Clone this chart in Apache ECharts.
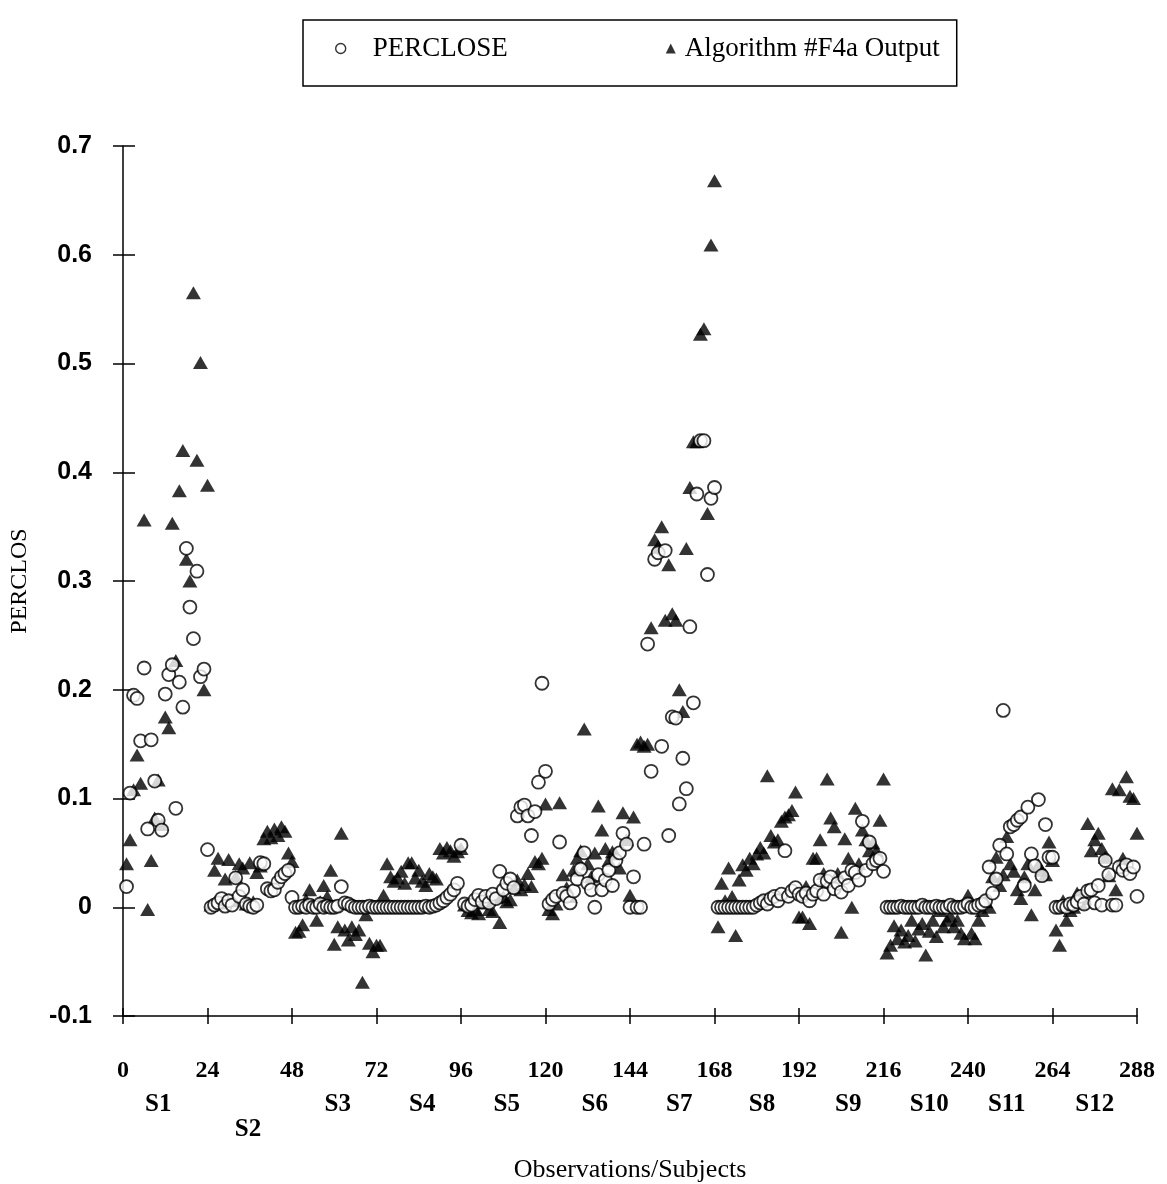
<!DOCTYPE html>
<html>
<head>
<meta charset="utf-8">
<script src="https://cdn.jsdelivr.net/npm/echarts@6/dist/echarts.min.js"></script>
<style>
html,body{margin:0;padding:0;background:#fff;}
#chart{width:1167px;height:1184px;}
</style>
</head>
<body>
<div id="chart"></div>
<script>
// ---- Data (24 observations per subject, observations 1..288) ----
const subjectNames = ['S1','S2','S3','S4','S5','S6','S7','S8','S9','S10','S11','S12'];
const subjectCenters = [10, 35.5, 61, 85, 109, 134, 158, 181.5, 206, 229, 251, 276];

// PERCLOSE (circles)
const s1p = [0.019,0.105,0.195,0.192,0.153,0.220,0.072,0.154,0.116,0.080,0.071,0.196,0.214,0.223,0.091,0.207,0.184,0.330,0.276,0.247,0.309,0.212,0.219,0.053];
const s2p = [0.000,0.002,0.004,0.008,0.001,0.006,0.002,0.027,0.010,0.016,0.003,0.001,0.000,0.002,0.041,0.040,0.017,0.015,0.016,0.023,0.028,0.031,0.034,0.009];
const s3p = [0.000,0.000,0.001,0.000,0.002,0.000,0.000,0.003,0.000,0.001,0.000,0.000,0.001,0.019,0.004,0.003,0.001,0.000,0.000,0.000,0.000,0.001,0.000,0.000];
const s4p = [0.000,0.000,0.000,0.000,0.000,0.000,0.000,0.000,0.000,0.000,0.000,0.000,0.000,0.001,0.000,0.001,0.002,0.004,0.006,0.009,0.012,0.016,0.022,0.057];
const s5p = [0.003,0.001,0.002,0.007,0.011,0.005,0.010,0.004,0.012,0.008,0.033,0.016,0.022,0.026,0.018,0.084,0.092,0.094,0.084,0.066,0.088,0.115,0.206,0.125];
const s6p = [0.003,0.007,0.010,0.060,0.013,0.010,0.004,0.015,0.026,0.035,0.050,0.022,0.016,0.000,0.030,0.016,0.025,0.034,0.020,0.043,0.050,0.068,0.058,0.000];
const s7p = [0.028,0.000,0.000,0.058,0.242,0.125,0.320,0.326,0.148,0.328,0.066,0.175,0.174,0.095,0.137,0.109,0.258,0.188,0.380,0.429,0.429,0.306,0.376,0.386];
const s8p = [0.000,0.000,0.000,0.000,0.000,0.000,0.000,0.000,0.000,0.000,0.000,0.002,0.004,0.006,0.003,0.008,0.010,0.006,0.012,0.052,0.010,0.015,0.018,0.012];
const s9p = [0.010,0.013,0.006,0.012,0.015,0.025,0.012,0.024,0.028,0.017,0.022,0.014,0.027,0.020,0.034,0.032,0.025,0.079,0.034,0.060,0.040,0.043,0.045,0.033];
const s10p = [0.000,0.000,0.000,0.000,0.001,0.000,0.000,0.000,0.000,0.000,0.002,0.000,0.000,0.000,0.001,0.000,0.000,0.000,0.002,0.000,0.000,0.000,0.001,0.003];
const s11p = [0.000,0.000,0.002,0.003,0.006,0.037,0.013,0.026,0.057,0.181,0.049,0.074,0.076,0.080,0.083,0.020,0.092,0.049,0.038,0.099,0.029,0.076,0.046,0.046];
const s12p = [0.000,0.000,0.001,0.000,0.003,0.002,0.005,0.010,0.003,0.015,0.016,0.004,0.020,0.002,0.043,0.030,0.002,0.002,0.037,0.034,0.039,0.031,0.037,0.010];

// Algorithm #F4a Output (triangles)
const s1t = [0.040,0.062,0.108,0.140,0.114,0.356,-0.002,0.043,0.082,0.117,0.076,0.175,0.165,0.353,0.227,0.383,0.420,0.320,0.300,0.565,0.411,0.501,0.200,0.388];
const s2t = [0.002,0.034,0.045,0.004,0.026,0.044,0.006,0.028,0.040,0.036,0.003,0.041,0.005,0.032,0.038,0.063,0.070,0.064,0.072,0.066,0.074,0.070,0.050,0.042];
const s3t = [-0.023,-0.022,-0.016,0.007,0.016,0.002,-0.012,0.005,0.020,0.010,0.034,-0.034,-0.018,0.068,-0.021,-0.030,-0.018,-0.025,-0.021,-0.069,-0.007,-0.033,-0.041,-0.035];
const s4t = [-0.035,0.011,0.040,0.028,0.024,0.027,0.033,0.022,0.041,0.041,0.027,0.034,0.024,0.020,0.031,0.028,0.026,0.054,0.050,0.055,0.052,0.047,0.051,0.054];
const s5t = [0.002,-0.003,-0.005,-0.002,-0.006,0.004,0.006,-0.002,-0.004,0.009,-0.014,0.010,0.005,0.007,0.018,0.025,0.016,0.021,0.031,0.019,0.042,0.040,0.045,0.095];
const s6t = [-0.002,-0.006,0.003,0.096,0.030,0.018,0.010,0.034,0.045,0.052,0.164,0.040,0.028,0.050,0.093,0.071,0.054,0.043,0.051,0.049,0.036,0.087,0.062,0.011];
const s7t = [0.083,0.150,0.152,0.148,0.150,0.257,0.338,0.332,0.350,0.264,0.315,0.270,0.264,0.200,0.180,0.330,0.386,0.428,0.428,0.527,0.532,0.362,0.609,0.668];
const s8t = [-0.018,0.022,0.006,0.036,0.010,-0.026,0.025,0.039,0.034,0.045,0.040,0.049,0.055,0.050,0.121,0.066,0.060,0.062,0.079,0.083,0.085,0.089,0.106,-0.009];
const s9t = [-0.009,0.019,-0.015,0.045,0.045,0.062,0.031,0.118,0.082,0.074,0.031,-0.023,0.063,0.045,0.000,0.091,0.040,0.071,0.062,0.052,0.059,0.052,0.080,0.118];
const s10t = [-0.042,-0.035,-0.017,-0.029,-0.021,-0.032,-0.026,-0.012,-0.031,-0.020,-0.015,-0.044,-0.022,-0.012,-0.027,-0.003,-0.018,-0.012,-0.008,-0.018,-0.012,-0.024,-0.029,0.011];
const s11t = [-0.024,-0.029,-0.012,-0.003,0.005,0.000,0.028,0.046,0.020,0.030,0.065,0.040,0.033,0.016,0.008,0.028,0.040,-0.007,0.016,0.039,0.034,0.030,0.060,0.043];
const s12t = [-0.021,-0.035,0.006,-0.012,-0.003,0.000,0.013,0.004,0.008,0.077,0.052,0.062,0.068,0.054,0.046,0.029,0.109,0.016,0.108,0.045,0.120,0.102,0.100,0.068];

const perclose = [].concat(s1p,s2p,s3p,s4p,s5p,s6p,s7p,s8p,s9p,s10p,s11p,s12p);
const algorithm = [].concat(s1t,s2t,s3t,s4t,s5t,s6t,s7t,s8t,s9t,s10t,s11t,s12t);

const toPoints = arr => arr.map((v, i) => [i + 1, v]);

const serif = '"Liberation Serif", "Times New Roman", serif';
const sans = '"Liberation Sans", Arial, sans-serif';
const axisColor = '#000';

const chart = echarts.init(document.getElementById('chart'), null, {renderer: 'canvas'});
chart.setOption({
  backgroundColor: '#fff',
  animation: false,
  grid: {left: 123, right: 30, top: 146, bottom: 168, containLabel: false, outerBoundsMode: 'none'},
  legend: {
    left: 303, top: 20,
    padding: [15, 17, 24, 32],
    borderColor: '#000', borderWidth: 1.5,
    itemWidth: 10, itemHeight: 10, itemGap: 158,
    textStyle: {fontFamily: serif, fontSize: 27, color: '#000'},
    data: [
      {name: 'PERCLOSE', icon: 'circle', itemStyle: {color: '#fff', borderColor: '#000', borderWidth: 1.4}, textStyle: {padding: [0, 0, 0, 22]}},
      {name: 'Algorithm #F4a Output', icon: 'triangle', itemStyle: {color: '#000'}, textStyle: {padding: [0, 0, 0, 4]}}
    ]
  },
  xAxis: [
    {
      type: 'value', min: 0, max: 288, interval: 24, position: 'bottom',
      axisLine: {show: true, onZero: false, lineStyle: {color: axisColor, width: 1.5}},
      axisTick: {show: true, inside: false, length: 8, lineStyle: {color: axisColor, width: 1.5}},
      splitLine: {show: false},
      axisLabel: {margin: 43, fontFamily: serif, fontSize: 24, fontWeight: 'bold', color: '#000'},
      name: 'Observations/Subjects', nameLocation: 'middle', nameGap: 141,
      nameTextStyle: {fontFamily: serif, fontSize: 26, color: '#000'}
    },
    {
      type: 'value', min: 0, max: 288, interval: 24, position: 'bottom',
      axisLine: {show: false, onZero: false},
      axisTick: {show: true, inside: true, length: 8, lineStyle: {color: axisColor, width: 1.5}},
      splitLine: {show: false}, axisLabel: {show: false}
    },
    {
      type: 'value', min: 0, max: 288, interval: 0.5, position: 'bottom',
      axisLine: {show: false, onZero: false}, axisTick: {show: false}, splitLine: {show: false},
      axisLabel: {
        margin: 76, fontFamily: serif, fontSize: 25, fontWeight: 'bold', color: '#000',
        formatter: function (v) {
          const i = subjectCenters.indexOf(v);
          if (i < 0) return '';
          return i === 1 ? '{low|' + subjectNames[i] + '}' : '{n|' + subjectNames[i] + '}';
        },
        rich: {
          n: {fontFamily: serif, fontSize: 25, fontWeight: 'bold', color: '#000'},
          low: {fontFamily: serif, fontSize: 25, fontWeight: 'bold', color: '#000', padding: [25, 0, 0, 0]}
        }
      }
    }
  ],
  yAxis: [
    {
      type: 'value', min: -0.1, max: 0.7, interval: 0.1,
      axisLine: {show: true, onZero: false, lineStyle: {color: axisColor, width: 1.5}},
      axisTick: {show: true, inside: false, length: 10, lineStyle: {color: axisColor, width: 1.5}},
      splitLine: {show: false},
      axisLabel: {
        margin: 31, fontFamily: sans, fontSize: 25, fontWeight: 'bold', color: '#000',
        formatter: v => String(Math.round(v * 10) / 10)
      },
      name: 'PERCLOS', nameLocation: 'middle', nameGap: 91, nameRotate: 90,
      nameTextStyle: {fontFamily: serif, fontSize: 24, color: '#000'}
    },
    {
      type: 'value', min: -0.1, max: 0.7, interval: 0.1, position: 'left',
      axisLine: {show: false, onZero: false},
      axisTick: {show: true, inside: true, length: 12, lineStyle: {color: axisColor, width: 1.5}},
      splitLine: {show: false}, axisLabel: {show: false}
    }
  ],
  series: [
    {
      name: 'Algorithm #F4a Output', type: 'scatter', xAxisIndex: 0, yAxisIndex: 0,
      symbol: 'triangle', symbolSize: [15, 13],
      itemStyle: {color: '#000'},
      data: toPoints(algorithm)
    },
    {
      name: 'PERCLOSE', type: 'scatter', xAxisIndex: 0, yAxisIndex: 0,
      symbol: 'circle', symbolSize: 13,
      itemStyle: {color: '#fff', borderColor: '#000', borderWidth: 1.8},
      data: toPoints(perclose)
    }
  ]
});
</script>
</body>
</html>
